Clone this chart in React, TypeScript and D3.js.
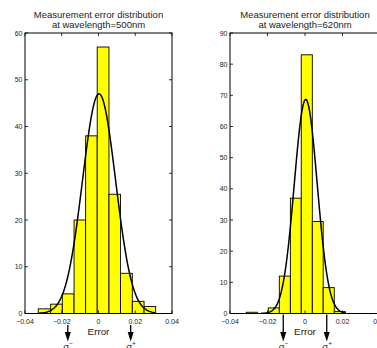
import React from 'react';
import * as d3 from 'd3';

// histogram bin edges and counts
const edges500 = [-0.0328, -0.026, -0.0197, -0.0133, -0.007, -0.0007, 0.0057, 0.012, 0.0184, 0.0248, 0.0311];
const counts500 = [1, 2, 4.2, 20, 38, 57, 25.5, 8.6, 2.6, 1.5];
const edges620 = [-0.0313, -0.0254, -0.0196, -0.0137, -0.0078, -0.002, 0.0039, 0.0097, 0.0156, 0.0215];
const counts620 = [0.4, 0, 1.8, 12, 37, 83, 29.5, 8.3, 0.6];

// fitted normal curve: mean, sigma, peak height, drawn range
const fit500 = { mu: 0.0003, sigma: 0.009, peak: 47, from: -0.0328, to: 0.0311 };
const fit620 = { mu: 0.0004, sigma: 0.0061, peak: 68.7, from: -0.0235, to: 0.0215 };

// sigma- / sigma+ markers
const sigma500 = [-0.0167, 0.0175];
const sigma620 = [-0.0116, 0.0116];

const xTicks = [-0.04, -0.02, 0, 0.02, 0.04];
const yTicks500 = [0, 10, 20, 30, 40, 50, 60];
const yTicks620 = [0, 10, 20, 30, 40, 50, 60, 70, 80, 90];

const FONT = '"Liberation Sans", Arial, Helvetica, sans-serif';

type PanelProps = {
  title: string;
  edges: number[];
  counts: number[];
  fit: { mu: number; sigma: number; peak: number; from: number; to: number };
  sigmas: number[];
  yTicks: number[];
  yMax: number;
  left: number;
  right: number;
  arrowTop: number;
};

const fmt = (v: number) => (v === 0 ? '0' : (v < 0 ? '\u22120' : '0') + d3.format('.2f')(Math.abs(v)).slice(1));

const Panel = ({ title, edges, counts, fit, sigmas, yTicks, yMax, left, right, arrowTop }: PanelProps) => {
  const top = 33;
  const bottom = 313.5;
  const x = d3.scaleLinear().domain([-0.04, 0.04]).range([left, right]);
  const y = d3.scaleLinear().domain([0, yMax]).range([bottom, top]);

  const n = 120;
  const pts = d3.range(n + 1).map((i) => fit.from + ((fit.to - fit.from) * i) / n);
  const line = d3
    .line<number>()
    .x((d) => x(d))
    .y((d) => y(fit.peak * Math.exp(-((d - fit.mu) ** 2) / (2 * fit.sigma ** 2))));

  const tl = 3;

  return (
    <g>
      <text x={x(0)} y={17.5} textAnchor="middle" fontSize={9.5} fontFamily={FONT} fill="#222">
        Measurement error distribution
      </text>
      <text x={x(0)} y={27.5} textAnchor="middle" fontSize={9.5} fontFamily={FONT} fill="#222">
        {title}
      </text>

      {counts.map((c, i) => (
        <rect
          key={i}
          x={x(edges[i])}
          y={y(c)}
          width={x(edges[i + 1]) - x(edges[i])}
          height={bottom - y(c)}
          fill="#ffff00"
          stroke="#000"
          strokeWidth={0.9}
        />
      ))}

      <path d={line(pts) ?? ''} fill="none" stroke="#000" strokeWidth={1.5} />

      <rect x={left} y={top} width={right - left} height={bottom - top} fill="none" stroke="#000" strokeWidth={1} />

      {xTicks.map((t) => (
        <g key={t}>
          <line x1={x(t)} x2={x(t)} y1={bottom} y2={bottom - tl} stroke="#000" strokeWidth={0.8} />
          <line x1={x(t)} x2={x(t)} y1={top} y2={top + tl} stroke="#000" strokeWidth={0.8} />
          <text x={x(t)} y={323.5} textAnchor="middle" fontSize={7} fontFamily={FONT} fill="#222">
            {fmt(t)}
          </text>
        </g>
      ))}
      {yTicks.map((t) => (
        <g key={t}>
          <line x1={left} x2={left + tl} y1={y(t)} y2={y(t)} stroke="#000" strokeWidth={0.8} />
          <line x1={right} x2={right - tl} y1={y(t)} y2={y(t)} stroke="#000" strokeWidth={0.8} />
          <text x={left - 2.5} y={y(t) + 2.5} textAnchor="end" fontSize={7} fontFamily={FONT} fill="#222">
            {t}
          </text>
        </g>
      ))}

      <text x={x(0)} y={335} textAnchor="middle" fontSize={9.8} fontFamily={FONT} fill="#222">
        Error
      </text>

      {sigmas.map((s, i) => (
        <g key={i}>
          <line x1={x(s)} x2={x(s)} y1={arrowTop} y2={334} stroke="#000" strokeWidth={1.3} />
          <path d={`M${x(s) - 3},332 L${x(s) + 3},332 L${x(s)},341.5 Z`} fill="#000" />
          <text x={x(s) - 4.5} y={349.5} fontSize={9.5} fontFamily={FONT} fill="#222">
            σ
            <tspan fontSize={6.5} dy={-4}>
              {i === 0 ? '\u2212' : '+'}
            </tspan>
          </text>
        </g>
      ))}
    </g>
  );
};

export default function App() {
  return (
    <div style={{ position: 'fixed', left: 0, top: 0 }}>
      <svg width={377} height={348} style={{ display: 'block', background: '#fff' }}>
        <Panel
          title="at wavelength=500nm"
          edges={edges500}
          counts={counts500}
          fit={fit500}
          sigmas={sigma500}
          yTicks={yTicks500}
          yMax={60}
          left={25}
          right={172}
          arrowTop={325}
        />
        <Panel
          title="at wavelength=620nm"
          edges={edges620}
          counts={counts620}
          fit={fit620}
          sigmas={sigma620}
          yTicks={yTicks620}
          yMax={90}
          left={230}
          right={380}
          arrowTop={314.5}
        />
      </svg>
    </div>
  );
}
